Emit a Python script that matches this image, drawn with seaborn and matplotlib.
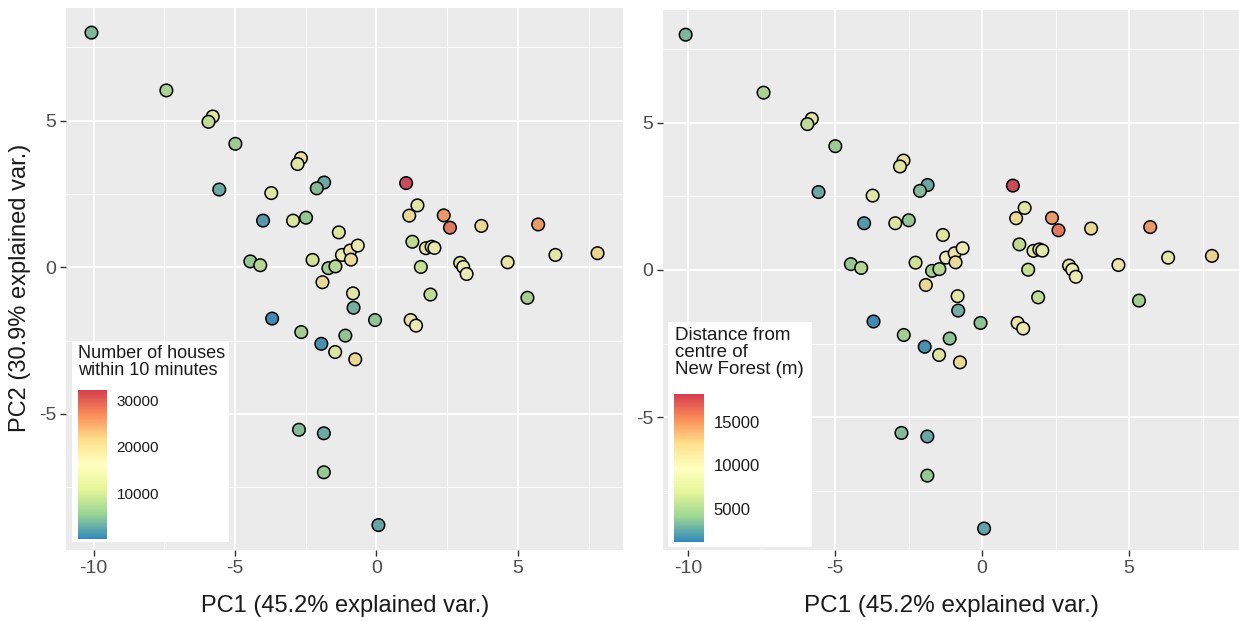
import numpy as np
import pandas as pd
import seaborn as sns
import matplotlib.pyplot as plt
from matplotlib.colors import LinearSegmentedColormap, Normalize, to_rgb
from matplotlib.cm import ScalarMappable
from matplotlib.patches import Rectangle
from matplotlib.ticker import MultipleLocator

# PCA scores (same points in both panels)
pc1 = [-10.08, -7.43, -5.79, -5.94, -4.99, -2.67, -2.79, -5.56, -3.72, -1.85,
       -2.11, -4.01, -2.95, -2.49, -1.33, -4.46, -4.11, -2.26, -1.70, -1.45,
       -1.91, -1.22, -0.93, -0.90, -0.66, -0.83, 1.05, 1.45, 1.16, 2.38,
       2.60, 3.71, 5.72, 1.27, 1.75, 1.95, 2.05, 1.57, 2.96, 3.07,
       3.19, 4.64, 6.33, 7.82, 1.91, 5.34, -0.81, -0.05, 1.21, 1.40,
       -1.10, -1.46, -0.75, -3.69, -2.66, -1.95, -2.74, -1.86, -1.86, 0.07]
pc2 = [8.00, 6.03, 5.14, 4.96, 4.21, 3.72, 3.52, 2.65, 2.53, 2.89,
       2.69, 1.59, 1.59, 1.69, 1.19, 0.20, 0.07, 0.25, -0.03, 0.03,
       -0.51, 0.42, 0.57, 0.26, 0.74, -0.89, 2.87, 2.11, 1.76, 1.77,
       1.35, 1.41, 1.46, 0.87, 0.65, 0.70, 0.66, 0.01, 0.15, 0.01,
       -0.23, 0.17, 0.42, 0.48, -0.93, -1.04, -1.38, -1.80, -1.80, -1.99,
       -2.33, -2.89, -3.14, -1.75, -2.21, -2.61, -5.54, -5.66, -6.99, -8.79]

# number of houses within 10 minutes
houses = [4000, 7200, 13600, 9200, 6000, 18800, 13000, 2800, 13600, 2800,
          4400, 1500, 12400, 5600, 12400, 5600, 8200, 10400, 6600, 8200,
          20000, 16200, 17800, 19400, 15600, 13600, 32200, 13600, 20000, 25800,
          28400, 20000, 25800, 8800, 13600, 12400, 14600, 9800, 13000, 16200,
          16200, 17800, 14000, 21000, 9200, 6600, 3400, 5000, 17800, 16200,
          5000, 12400, 20000, 100, 6600, 800, 4400, 2800, 5600, 2400]

# distance from centre of New Forest (m)
distance = [3240, 4940, 8340, 5960, 4260, 11060, 8000, 2560, 8340, 2560,
            3410, 1880, 7660, 4090, 7660, 4090, 5450, 6640, 4600, 5450,
            11740, 9700, 10550, 11400, 9360, 8340, 18200, 8340, 11740, 14800,
            16160, 11740, 14800, 5790, 8340, 7660, 8850, 6300, 8000, 9700,
            9700, 10550, 8510, 12250, 5960, 4600, 2900, 3750, 10550, 9700,
            3750, 7660, 11740, 1200, 4600, 1540, 3410, 2560, 4090, 2390]

df = pd.DataFrame({"PC1": pc1, "PC2": pc2, "houses": houses, "distance": distance})

spectral = ["#3288BD", "#99D594", "#E6F598", "#FFFFBF", "#FEE08B", "#FC8D59", "#D53E4F"]
cmap = LinearSegmentedColormap.from_list("spectral7", spectral)
# the points in the picture look a bit duller than the colour bar
dull = [tuple(0.82 * c + 0.18 * 0.55 for c in to_rgb(h)) for h in spectral]
cmap_pts = LinearSegmentedColormap.from_list("spectral7_dull", dull)

sns.set_style("darkgrid", {"axes.facecolor": "#EBEBEB", "grid.color": "white"})
plt.rcParams["font.family"] = ["Liberation Sans", "DejaVu Sans"]
plt.rcParams["axes.unicode_minus"] = False

W, H = 1239, 621
fig = plt.figure(figsize=(W / 100, H / 100), dpi=100)


def fx(px):
    return px / W


def fy(py):
    return 1 - py / H


def panel(rect, xlim, ylim, col, norm):
    ax = fig.add_axes(rect)
    sns.scatterplot(data=df, x="PC1", y="PC2", hue=col, palette=cmap_pts, hue_norm=norm,
                    legend=False, s=82, edgecolor="black", linewidth=1.1,
                    ax=ax, zorder=3)
    ax.set_xlim(*xlim)
    ax.set_ylim(*ylim)
    ax.xaxis.set_major_locator(MultipleLocator(5))
    ax.yaxis.set_major_locator(MultipleLocator(5))
    ax.xaxis.set_minor_locator(MultipleLocator(2.5))
    ax.yaxis.set_minor_locator(MultipleLocator(2.5))
    ax.grid(which="major", color="white", linewidth=1.3)
    ax.grid(which="minor", color="white", linewidth=0.6)
    ax.tick_params(which="major", length=4, width=1, color="#333333", labelsize=14,
                   labelcolor="#4D4D4D", pad=3, bottom=True, left=True)
    ax.tick_params(which="minor", length=0)
    ax.set_xlabel("")
    ax.set_ylabel("")
    for s in ax.spines.values():
        s.set_visible(False)
    return ax


def legend_box(box, title_xy, title, bar, norm, ticks, fs_title, fs_text):
    x0, y0, x1, y1 = box
    fig.patches.append(Rectangle((fx(x0), fy(y1)), fx(x1 - x0), (y1 - y0) / H,
                                 transform=fig.transFigure, facecolor="white",
                                 edgecolor="none", zorder=2))
    fig.text(fx(title_xy[0]), fy(title_xy[1]), title, ha="left", va="top",
             fontsize=fs_title, color="#1A1A1A", linespacing=1.0, zorder=4)
    bx0, by0, bx1, by1 = bar
    cax = fig.add_axes([fx(bx0), fy(by1), fx(bx1 - bx0), (by1 - by0) / H])
    cax.set_zorder(5)
    cb = fig.colorbar(ScalarMappable(norm=norm, cmap=cmap), cax=cax)
    cb.outline.set_visible(False)
    cb.set_ticks(ticks)
    cb.ax.set_yticklabels([str(t) for t in ticks])
    cax.tick_params(axis="y", which="both", direction="in", length=5, width=1,
                    color="white", left=True, right=True, labelsize=fs_text,
                    labelcolor="#1A1A1A", pad=7)
    cax.minorticks_off()


norm_h = Normalize(min(houses), max(houses))
norm_d = Normalize(min(distance), max(distance))

ax1 = panel([fx(66), fy(550), fx(557), 542 / H], (-10.98, 8.72), (-9.64, 8.84), "houses", norm_h)
ax2 = panel([fx(663), fy(550), fx(576), 540 / H], (-10.85, 8.74), (-9.52, 8.84), "distance", norm_d)

fig.text(fx(345), fy(606), "PC1 (45.2% explained var.)", ha="center", va="center",
         fontsize=17, color="#1A1A1A")
fig.text(fx(951), fy(606), "PC1 (45.2% explained var.)", ha="center", va="center",
         fontsize=17.5, color="#1A1A1A")
fig.text(fx(20), fy(288), "PC2 (30.9% explained var.)", ha="center", va="center",
         rotation=90, fontsize=17, color="#1A1A1A")

legend_box((72, 342, 229, 542), (78, 345), "Number of houses\nwithin 10 minutes",
           (78, 390, 107, 539), norm_h, [10000, 20000, 30000], 13, 11)
legend_box((668, 322, 812, 547), (675, 327), "Distance from\ncentre of\nNew Forest (m)",
           (674, 394, 704, 542), norm_d, [5000, 10000, 15000], 13.5, 12)

fig.savefig("out.png", dpi=100, facecolor="white")
